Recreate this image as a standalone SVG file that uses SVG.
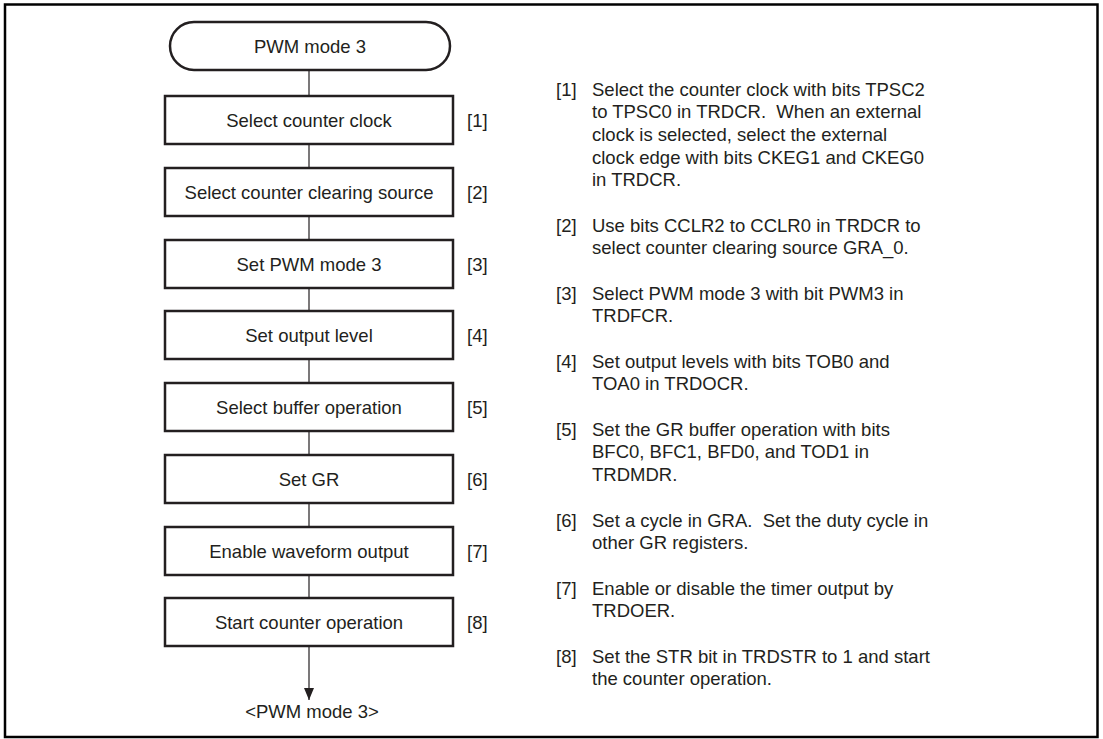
<svg xmlns="http://www.w3.org/2000/svg" width="1103" height="739" viewBox="0 0 1103 739">
<defs>
<style>
text{font-family:"Liberation Sans",Arial,sans-serif;font-size:18.5px;fill:#231f20;white-space:pre}
.box{fill:#fff;stroke:#231f20;stroke-width:2.5}
.c{text-anchor:middle}
.ln{stroke:#231f20;stroke-width:1.2;fill:none}
</style>
<marker id="ah" viewBox="0 0 12 10" refX="12" refY="5" markerWidth="12" markerHeight="10" markerUnits="userSpaceOnUse" orient="auto">
<path d="M0,0 L12,5 L0,10 Z" fill="#231f20"/>
</marker>
</defs>
<rect x="5" y="4.5" width="1092.5" height="732.5" fill="#fff" stroke="#000" stroke-width="2.5"/>
<g id="connectors">
<line class="ln" x1="309" y1="70" x2="309" y2="96"/>
<line class="ln" x1="309" y1="144" x2="309" y2="168"/>
<line class="ln" x1="309" y1="216" x2="309" y2="240"/>
<line class="ln" x1="309" y1="288" x2="309" y2="311"/>
<line class="ln" x1="309" y1="359" x2="309" y2="383"/>
<line class="ln" x1="309" y1="431" x2="309" y2="455"/>
<line class="ln" x1="309" y1="503" x2="309" y2="527"/>
<line class="ln" x1="309" y1="574" x2="309" y2="598"/>
<line class="ln" x1="309" y1="646" x2="309" y2="700" marker-end="url(#ah)"/>
</g>
<g id="start"><rect class="box" x="170" y="22" width="280" height="48" rx="24"/><text class="c" x="310" y="52.5">PWM mode 3</text></g>
<g id="n1"><rect class="box" x="165" y="96" width="288" height="48"/><text class="c" x="309" y="126.5">Select counter clock</text><text x="467" y="126.5">[1]</text></g>
<g id="n2"><rect class="box" x="165" y="168" width="288" height="48"/><text class="c" x="309" y="198.5">Select counter clearing source</text><text x="467" y="198.5">[2]</text></g>
<g id="n3"><rect class="box" x="165" y="240" width="288" height="48"/><text class="c" x="309" y="270.5">Set PWM mode 3</text><text x="467" y="270.5">[3]</text></g>
<g id="n4"><rect class="box" x="165" y="311" width="288" height="48"/><text class="c" x="309" y="341.5">Set output level</text><text x="467" y="341.5">[4]</text></g>
<g id="n5"><rect class="box" x="165" y="383" width="288" height="48"/><text class="c" x="309" y="413.5">Select buffer operation</text><text x="467" y="413.5">[5]</text></g>
<g id="n6"><rect class="box" x="165" y="455" width="288" height="48"/><text class="c" x="309" y="485.5">Set GR</text><text x="467" y="485.5">[6]</text></g>
<g id="n7"><rect class="box" x="165" y="527" width="288" height="48"/><text class="c" x="309" y="557.5">Enable waveform output</text><text x="467" y="557.5">[7]</text></g>
<g id="n8"><rect class="box" x="165" y="598" width="288" height="48"/><text class="c" x="309" y="628.5">Start counter operation</text><text x="467" y="628.5">[8]</text></g>
<g id="end"><text class="c" x="312" y="718">&lt;PWM mode 3&gt;</text></g>
<g id="notes">
<text x="556" y="95.5">[1]<tspan x="592">Select the counter clock with bits TPSC2</tspan><tspan x="592" dy="22.7">to TPSC0 in TRDCR.  When an external</tspan><tspan x="592" dy="22.7">clock is selected, select the external</tspan><tspan x="592" dy="22.7">clock edge with bits CKEG1 and CKEG0</tspan><tspan x="592" dy="22.7">in TRDCR.</tspan></text>
<text x="556" y="231.5">[2]<tspan x="592">Use bits CCLR2 to CCLR0 in TRDCR to</tspan><tspan x="592" dy="22.7">select counter clearing source GRA_0.</tspan></text>
<text x="556" y="299.5">[3]<tspan x="592">Select PWM mode 3 with bit PWM3 in</tspan><tspan x="592" dy="22.7">TRDFCR.</tspan></text>
<text x="556" y="367.5">[4]<tspan x="592">Set output levels with bits TOB0 and</tspan><tspan x="592" dy="22.7">TOA0 in TRDOCR.</tspan></text>
<text x="556" y="435.5">[5]<tspan x="592">Set the GR buffer operation with bits</tspan><tspan x="592" dy="22.7">BFC0, BFC1, BFD0, and TOD1 in</tspan><tspan x="592" dy="22.7">TRDMDR.</tspan></text>
<text x="556" y="526.5">[6]<tspan x="592">Set a cycle in GRA.  Set the duty cycle in</tspan><tspan x="592" dy="22.7">other GR registers.</tspan></text>
<text x="556" y="594.5">[7]<tspan x="592">Enable or disable the timer output by</tspan><tspan x="592" dy="22.7">TRDOER.</tspan></text>
<text x="556" y="662.5">[8]<tspan x="592">Set the STR bit in TRDSTR to 1 and start</tspan><tspan x="592" dy="22.7">the counter operation.</tspan></text>
</g>
</svg>
